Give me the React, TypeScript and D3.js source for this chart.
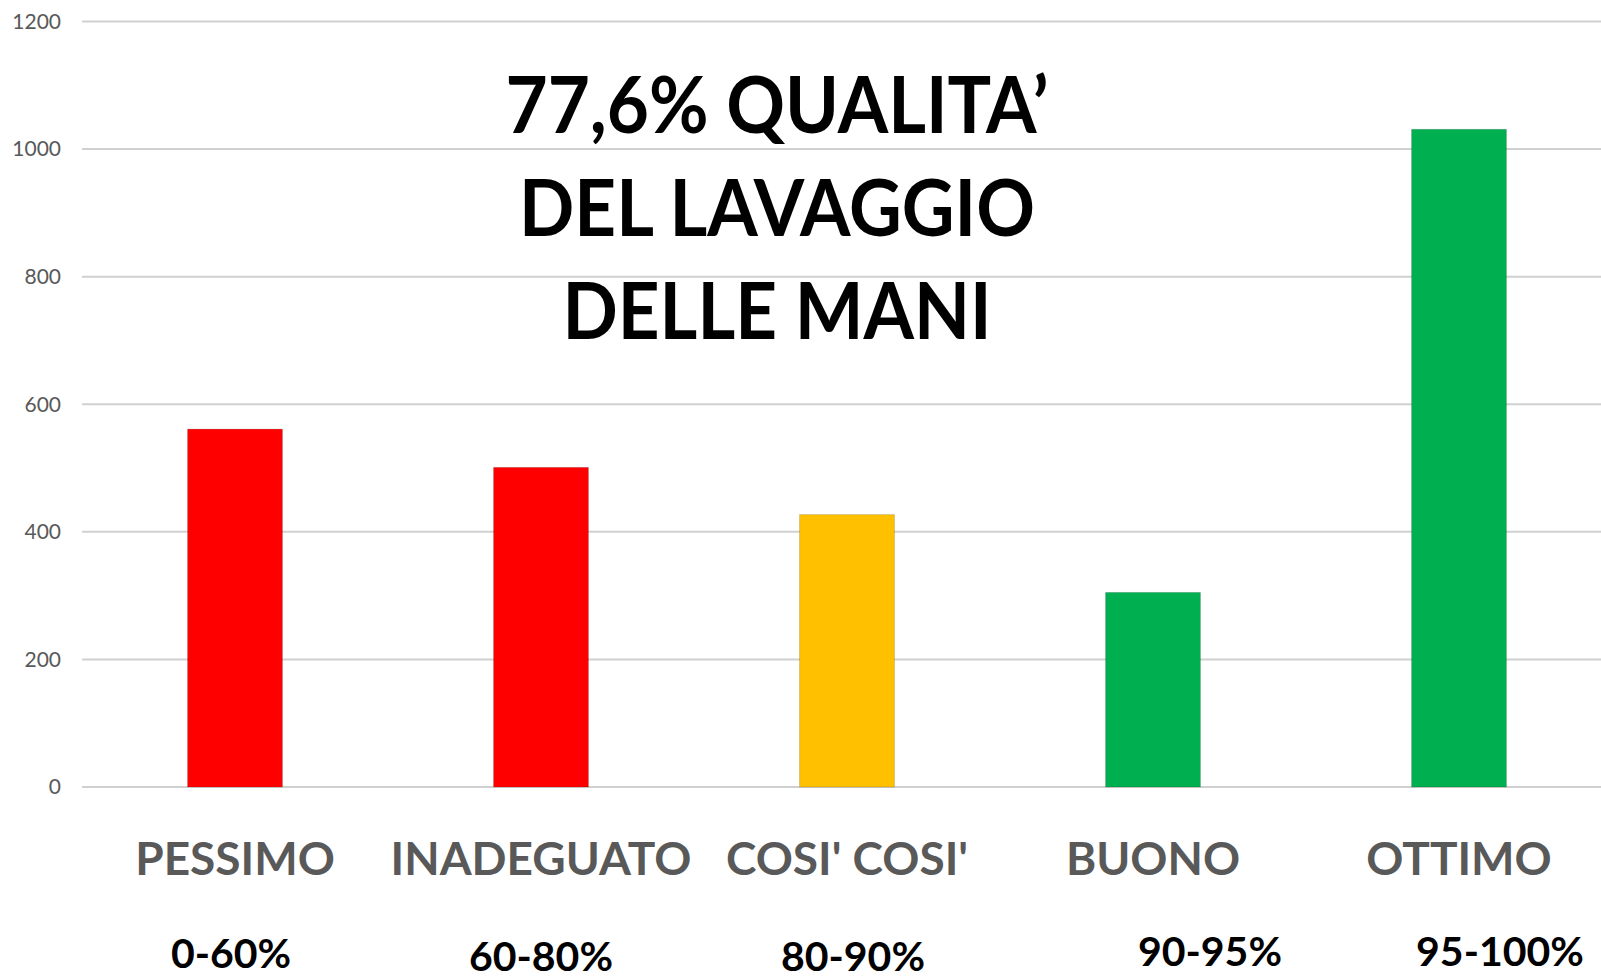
import React, { useRef, useEffect } from 'react';
import * as d3 from 'd3';

// Data
const categories = ['PESSIMO', 'INADEGUATO', "COSI' COSI'", 'BUONO', 'OTTIMO'];
const counts = [561, 501, 427, 305, 1031];
const ranges = ['0-60%', '60-80%', '80-90%', '90-95%', '95-100%'];
const barColors = ['#FF0000', '#FF0000', '#FFC000', '#00B050', '#00B050'];
const yTicks = [0, 200, 400, 600, 800, 1000, 1200];
const titleLines = ['77,6% QUALITA\u2019', 'DEL LAVAGGIO', 'DELLE MANI'];

// Layout for the free-floating text boxes
const rangeNudgeX = [-4, 0, 6, 57, 41];
const rangeBaseline = [968, 971, 971, 966, 966];
const titleWidths = [543, 516, 429];

const W = 1601;
const H = 980;
const FONT = 'Lato, "Open Sans", sans-serif';

const App = () => {
  const svgRef = useRef<SVGSVGElement>(null);

  useEffect(() => {
    const svg = d3.select(svgRef.current);
    svg.selectAll('*').remove();

    const plotLeft = 82;
    const step = 306;
    const y0 = 787;
    const y1 = 21.5;

    const x = d3.scaleBand<string>()
      .domain(categories)
      .range([plotLeft, plotLeft + step * categories.length])
      .paddingInner(0.69)
      .paddingOuter(0.345);

    const y = d3.scaleLinear()
      .domain([0, 1200])
      .range([y0, y1]);

    // Grid lines
    svg.append('g')
      .selectAll('line')
      .data(yTicks)
      .enter().append('line')
      .attr('x1', plotLeft)
      .attr('x2', W)
      .attr('y1', d => y(d))
      .attr('y2', d => y(d))
      .attr('stroke', '#d0d0d0')
      .attr('stroke-width', 2);

    // Y tick labels
    svg.append('g')
      .selectAll('text')
      .data(yTicks)
      .enter().append('text')
      .attr('x', 61)
      .attr('y', d => y(d))
      .attr('dy', '0.35em')
      .attr('text-anchor', 'end')
      .attr('font-family', FONT)
      .attr('font-size', 21)
      .attr('fill', '#595959')
      .text(d => d);

    // Bars
    svg.append('g')
      .selectAll('rect')
      .data(counts)
      .enter().append('rect')
      .attr('x', (d, i) => x(categories[i])!)
      .attr('y', d => y(d))
      .attr('width', x.bandwidth())
      .attr('height', d => y(0) - y(d))
      .attr('fill', (d, i) => barColors[i])
      .attr('stroke', 'rgba(0,0,0,0.15)')
      .attr('stroke-width', 1);

    // Category labels
    svg.append('g')
      .selectAll('text')
      .data(categories)
      .enter().append('text')
      .attr('x', d => x(d)! + x.bandwidth() / 2)
      .attr('y', 875)
      .attr('text-anchor', 'middle')
      .attr('font-family', FONT)
      .attr('font-weight', 'bold')
      .attr('font-size', 46)
      .attr('fill', '#595959')
      .text(d => d);

    // Range labels
    svg.append('g')
      .selectAll('text')
      .data(ranges)
      .enter().append('text')
      .attr('x', (d, i) => x(categories[i])! + x.bandwidth() / 2 + rangeNudgeX[i])
      .attr('y', (d, i) => rangeBaseline[i])
      .attr('text-anchor', 'middle')
      .attr('font-family', FONT)
      .attr('font-weight', 'bold')
      .attr('font-size', 41)
      .attr('fill', '#000')
      .text(d => d);

    // Title
    svg.append('g')
      .selectAll('text')
      .data(titleLines)
      .enter().append('text')
      .attr('x', 777)
      .attr('y', (d, i) => 133 + i * 103)
      .attr('text-anchor', 'middle')
      .attr('font-family', FONT)
      .attr('font-weight', 'bold')
      .attr('font-size', 78)
      .attr('textLength', (d, i) => titleWidths[i])
      .attr('lengthAdjust', 'spacingAndGlyphs')
      .attr('fill', '#000')
      .text(d => d);
  }, []);

  return (
    <svg
      ref={svgRef}
      width={W}
      height={H}
      style={{ position: 'fixed', left: 0, top: 0, background: '#fff' }}
    />
  );
};

export default App;
